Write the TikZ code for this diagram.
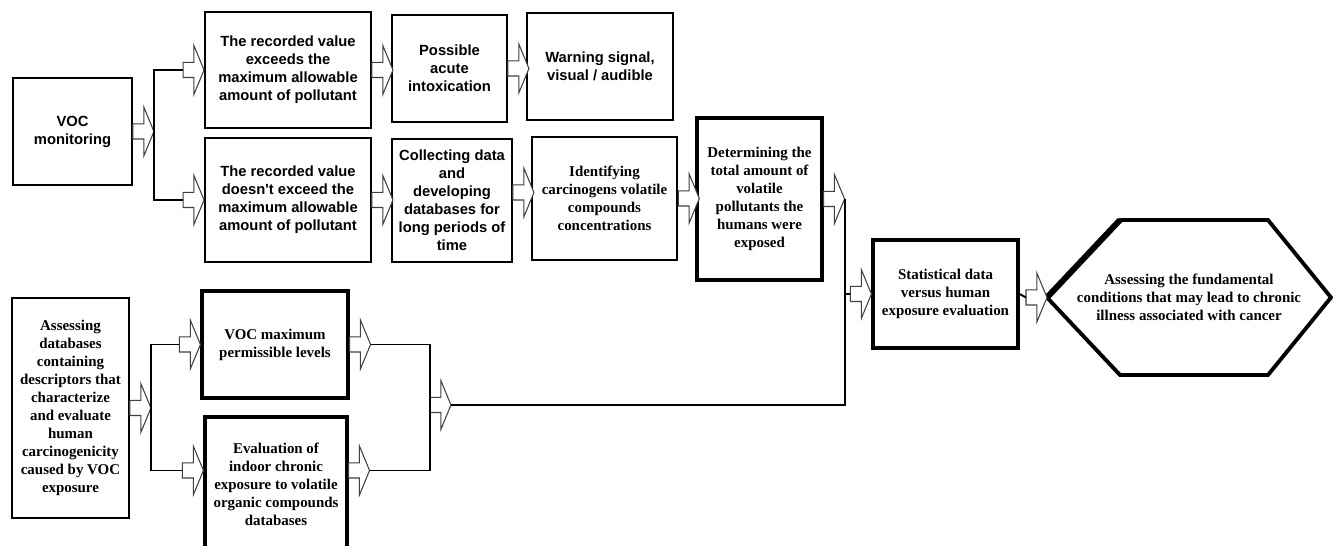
\documentclass[tikz,border=0pt]{standalone}
\usepackage{fontspec}
\setmainfont{Liberation Serif}
\newfontfamily\arialfont{Liberation Sans}
\usetikzlibrary{shapes.arrows,calc}

\begin{document}
\begin{tikzpicture}[x=0.02cm,y=-0.02cm]
		\tikzset{
			box/.style = {draw, line width=1.1pt, align=center, inner sep=1pt, font=\fontsize{8.5}{10.2}\selectfont\bfseries},
			sansbox/.style = {box, font=\fontsize{8.4}{10.2}\selectfont\arialfont\bfseries},
			heavybox/.style = {box, line width=1.8pt},
			blockarr/.style = {single arrow, draw=black!75, line width=0.6pt, fill=white, inner xsep=0pt, inner ysep=0.14cm, outer sep=0pt, single arrow head extend=0.34cm, single arrow tip angle=135, minimum height=0.42cm},
			conn/.style = {line width=1.1pt}
		}
		\useasboundingbox (0,0) rectangle (1333,546);
		\node[sansbox, minimum width=2.38cm, minimum height=2.14cm] (voc) at (72.5,131.5) {VOC\\monitoring};
		\node[sansbox, minimum width=3.32cm, minimum height=2.32cm] (exc) at (288,70) {The recorded value\\exceeds the\\maximum allowable\\amount of pollutant};
		\node[sansbox, minimum width=3.32cm, minimum height=2.48cm] (notexc) at (288,200) {The recorded value\\doesn't exceed the\\maximum allowable\\amount of pollutant};
		\node[sansbox, minimum width=2.30cm, minimum height=2.14cm] (acute) at (449.5,68.5) {Possible\\acute\\intoxication};
		\node[sansbox, minimum width=2.92cm, minimum height=2.14cm] (warn) at (600,66.5) {Warning signal,\\visual / audible};
		\node[sansbox, minimum width=2.40cm, minimum height=2.46cm] (collect) at (452,200.5) {Collecting data\\and\\developing\\databases for\\long periods of\\time};
		\node[box, line width=1.5pt, minimum width=2.90cm, minimum height=2.46cm] (ident) at (604.5,198.5) {Identifying\\carcinogens volatile\\compounds\\concentrations};
		\node[heavybox, minimum width=2.50cm, minimum height=3.24cm] (determ) at (759.5,199) {Determining the\\total amount of\\volatile\\pollutants the\\humans were\\exposed};
		\node[heavybox, minimum width=2.90cm, minimum height=2.16cm] (stat) at (945.5,294) {Statistical data\\versus human\\exposure evaluation};
		\node[align=center, font=\fontsize{8.5}{10.2}\selectfont\bfseries] (hex) at (1189,297.5) {Assessing the fundamental\\conditions that may lead to chronic\\illness associated with cancer};
		\coordinate (hextip) at ($(hex)+(-142,0)$);
		\draw[line width=2.2pt, line join=miter] (hextip) -- ($(hex)+(-69,-77.5)$) -- ($(hex)+(79,-77.5)$) -- ($(hex)+(142,0)$) -- ($(hex)+(79,77.5)$) -- ($(hex)+(-69,77.5)$) -- cycle;
		\draw[line width=3.4pt] (hextip) -- ($(hex)+(-69,-77.5)$);
		\node[box, minimum width=2.34cm, minimum height=4.40cm] (assess) at (70.5,408) {Assessing\\databases\\containing\\descriptors that\\characterize\\and evaluate\\human\\carcinogenicity\\caused by VOC\\exposure};
		\node[heavybox, minimum width=2.92cm, minimum height=2.14cm] (maxp) at (275,344.5) {VOC maximum\\permissible levels};
		\node[heavybox, minimum width=2.84cm, minimum height=2.70cm] (eval) at (276,484.5) {Evaluation of\\indoor chronic\\exposure to volatile\\organic compounds\\databases};

		\node[blockarr, anchor=tail] (a1) at (voc.east) {};
		\node[blockarr, anchor=tip] (a2) at (exc.west) {};
		\node[blockarr, anchor=tip] (a3) at (notexc.west) {};
		\node[blockarr, anchor=tail] (a4) at (exc.east) {};
		\node[blockarr, anchor=tail] (a5) at (acute.east) {};
		\node[blockarr, anchor=tail] (a6) at (notexc.east) {};
		\node[blockarr, anchor=tail] (a7) at ($(collect.east)+(0,-8)$) {};
		\node[blockarr, anchor=tail] (a8) at (ident.east) {};
		\node[blockarr, anchor=tail] (a9) at (determ.east) {};
		\node[blockarr, anchor=tip] (a10) at (stat.west) {};
		\node[blockarr, anchor=tip] (a11) at (hextip) {};
		\node[blockarr, anchor=tail] (a12) at (assess.east) {};
		\node[blockarr, anchor=tip] (a13) at (maxp.west) {};
		\node[blockarr, anchor=tip] (a14) at ($(eval.west)+(0,-14)$) {};
		\node[blockarr, anchor=tail] (a15) at (maxp.east) {};
		\node[blockarr, anchor=tail] (a16) at (a14 -| eval.east) {};
		\node[blockarr, anchor=tail] (a17) at (430,405) {};

		\draw[conn] (a1.tip) |- (a2.tail);
		\draw[conn] (a1.tip) |- (a3.tail);
		\draw[conn] (a9.tip) |- (a17.tip);
		\draw[conn] (a10.tail) -- (a10.tail -| a9.tip);
		\draw[conn] (stat.east) -- (a11.tail);
		\draw[conn] (a12.tip) |- (a13.tail);
		\draw[conn] (a12.tip) |- (a14.tail);
		\draw[conn] (a15.tip) -| (a17.tail);
		\draw[conn] (a16.tip) -| (a17.tail);
	\end{tikzpicture}
\end{document}
